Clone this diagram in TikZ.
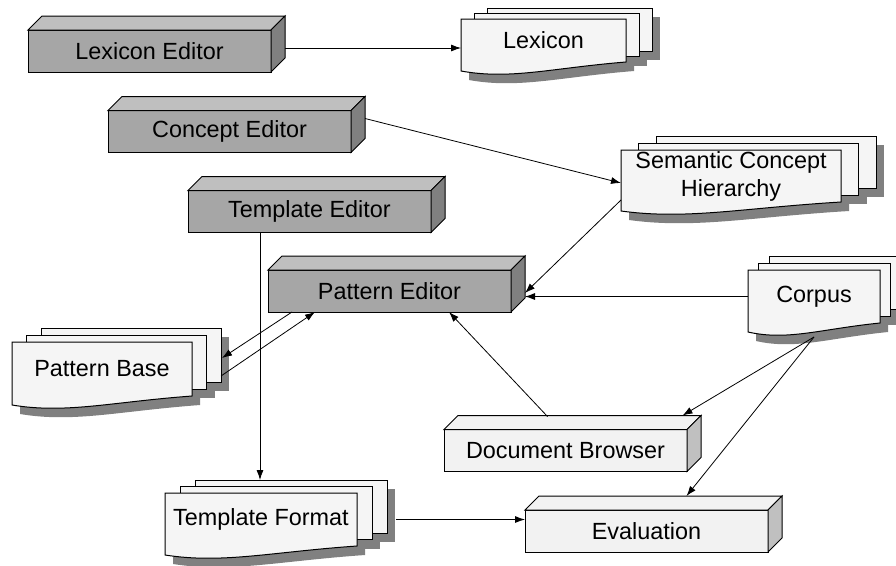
\documentclass[tikz,border=0pt]{standalone}
\usepackage{fontspec}
\setmainfont{Liberation Sans}
\usetikzlibrary{arrows.meta,backgrounds,calc}
\definecolor{darkfront}{RGB}{166,166,166}
\definecolor{darktop}{RGB}{191,191,191}
\definecolor{darkside}{RGB}{128,128,128}
\definecolor{lightfront}{RGB}{242,242,242}
\definecolor{lightside}{RGB}{192,192,192}
\definecolor{pagefill}{RGB}{245,245,245}
\definecolor{pageshadow}{RGB}{128,128,128}

\begin{document}
\begin{tikzpicture}[x=1pt, y=-1pt, >={Latex[length=10pt,width=7pt]},
 box/.style = {draw, line width=1pt, minimum width=243pt, minimum height=42pt, inner sep=0pt, outer sep=0pt, font=\fontsize{23.4}{28}\selectfont},
 darkbox/.style = {box, fill=darkfront},
 lightbox/.style = {box, fill=lightfront},
 doc/.style = {inner sep=0pt, outer sep=0pt, align=center, font=\fontsize{23.4}{28}\selectfont},
 link/.style = {->, line width=0.8pt},
                        ]
    \useasboundingbox (0,0) rectangle (896,565);

    \node [darkbox]  (lexed)  at (149.5,51)    {Lexicon Editor};
    \node [darkbox]  (conced) at (229.5,131.5) {Concept Editor};
    \node [darkbox]  (tpled)  at (309.5,211.5) {Template Editor};
    \node [darkbox]  (pated)  at (389.5,291)   {Pattern Editor};
    \node [lightbox] (dbr)    at (565.5,450.5) {Document Browser};
    \node [lightbox] (eval)   at (646.5,531)   {Evaluation};

    \node [doc, minimum width=165pt, minimum height=43pt] (lex)  at (543.5,40.5) {Lexicon};
    \node [doc, minimum width=220pt, minimum height=52pt] (sch)  at (731,176)    {Semantic Concept\\ Hierarchy};
    \node [doc, minimum width=132pt, minimum height=53pt] (corp) at (814,296.5)  {Corpus};
    \node [doc, minimum width=180pt, minimum height=54pt] (pb)   at (102,369)    {Pattern Base};
    \node [doc, minimum width=192pt, minimum height=53pt] (tf)   at (261,519.5)  {Template Format};

%% box faces
    \foreach \n/\tc/\sc in {lexed/darktop/darkside, conced/darktop/darkside, tpled/darktop/darkside,
                            pated/darktop/darkside, dbr/lightfront/lightside, eval/lightfront/lightside} {
      \draw[line width=1pt, fill=\tc] (\n.north west) -- ++(14,-14) -- ([shift={(14,-14)}]\n.north east) -- (\n.north east) -- cycle;
      \draw[line width=1pt, fill=\sc] (\n.north east) -- ++(14,-14) -- ([shift={(14,-14)}]\n.south east) -- (\n.south east) -- cycle;
    }

%% stacked pages
    \begin{scope}[on background layer]
    \foreach \n/\pw/\ox/\oy in {lex/165/13/5.5, sch/220/17.5/7, corp/132/10.5/7, pb/180/14.5/7, tf/192/15/6.5} {
      \fill[pageshadow] ([shift={(8+2*\ox,9-2*\oy)}]\n.north west) rectangle ([shift={(8+2*\ox,9-2*\oy)}]\n.south east);
      \fill[pageshadow] ([shift={(8+\ox,9-\oy)}]\n.north west) rectangle ([shift={(8+\ox,9-\oy)}]\n.south east);
      \fill[pageshadow] ([shift={(8,18)}]\n.south west) -- ([shift={(8,9)}]\n.north west) -- ([shift={(8,9)}]\n.north east)
          -- ([shift={(8,9)}]\n.south east) .. controls +(-0.45*\pw,6) and +(0.3*\pw,9) .. ([shift={(8,18)}]\n.south west) -- cycle;
      \draw[line width=1pt, fill=pagefill] ([shift={(2*\ox,-2*\oy)}]\n.north west) rectangle ([shift={(2*\ox,-2*\oy)}]\n.south east);
      \draw[line width=1pt, fill=pagefill] ([shift={(\ox,-\oy)}]\n.north west) rectangle ([shift={(\ox,-\oy)}]\n.south east);
      \draw[line width=1pt, fill=pagefill] ([yshift=-9pt]\n.south west) -- (\n.north west) -- (\n.north east)
          -- (\n.south east) .. controls +(-0.45*\pw,6) and +(0.3*\pw,9) .. ([yshift=-9pt]\n.south west) -- cycle;
    }
    \end{scope}

%% docking points
    \coordinate (lexout)  at ([shift={(14,-3)}]lexed.east);
    \coordinate (conout)  at ([shift={(14,-13)}]conced.east);
    \coordinate (pedock)  at ([shift={(14,5)}]pated.east);
    \coordinate (tdrop)   at ([xshift=72pt]tpled.south west);
    \coordinate (tfback)  at ([yshift=13pt]tf.north);
    \coordinate (corpout) at ([yshift=-14pt]corp.south);

%% paths
    \draw[link] (lexout) -- (lexout -| lex.west);
    \draw[link] (conout) -- ([yshift=-7pt]sch.west);
    \draw[link] ([yshift=2pt]sch.south west) -- ([yshift=3pt]pedock);
    \draw[link] (corp.west) -- (corp.west -| pedock);
    \draw[link] (tdrop) -- (tdrop |- tfback);
    \draw[link] ([xshift=24pt]pated.south west) -- ([shift={(30,-11)}]pb.east);
    \draw[link] ([shift={(29,7)}]pb.east) -- ([xshift=47pt]pated.south west);
    \draw[link] ([shift={(-18,-13)}]dbr.north) -- ([xshift=181pt]pated.south west);
    \draw[link] (corpout) -- ([shift={(117,-14)}]dbr.north);
    \draw[link] (corpout) -- ([shift={(40,-14)}]eval.north);
    \draw[link] ([xshift=39pt]tf.east) -- (tf.east -| eval.west);
\end{tikzpicture}
\end{document}
